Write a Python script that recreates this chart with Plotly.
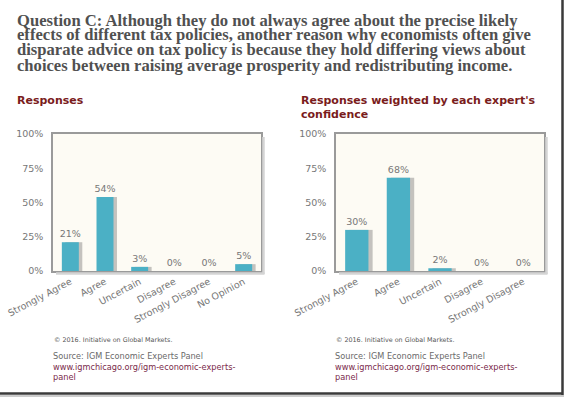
import plotly.graph_objects as go

# ---- data ----
categories_left = ["Strongly Agree", "Agree", "Uncertain", "Disagree", "Strongly Disagree", "No Opinion"]
values_left = [21, 54, 3, 0, 0, 5]
categories_right = ["Strongly Agree", "Agree", "Uncertain", "Disagree", "Strongly Disagree"]
values_right = [30, 68, 2, 0, 0]
y_tickvals = [0, 25, 50, 75, 100]
y_ticktext = ["0%", "25%", "50%", "75%", "100%"]

title_lines = [
    "Question C: Although they do not always agree about the precise likely",
    "effects of different tax policies, another reason why economists often give",
    "disparate advice on tax policy is because they hold differing views about",
    "choices between raising average prosperity and redistributing income.",
]

W, H = 565, 397
def px(x):
    return x / W
def py(y):
    return 1 - y / H

BAR = "#4BB0C5"
SHADOW = "rgba(90,90,90,0.35)"
TXT = "#777777"
RED = "#7A1C1C"

fig = go.Figure()

def add_panel(cats, vals, xa, ya, width):
    fig.add_trace(go.Bar(x=cats, y=vals, xaxis=xa, yaxis=ya, marker_color=SHADOW,
                         width=width, offset=-width / 2 + 0.1, hoverinfo="skip",
                         marker_line_width=0, showlegend=False))
    fig.add_trace(go.Bar(x=cats, y=vals, xaxis=xa, yaxis=ya, marker_color=BAR,
                         width=width, offset=-width / 2,
                         text=[f"{v}%" for v in vals], textposition="outside", constraintext="none",
                         textfont=dict(family="DejaVu Sans", size=9.5, color=TXT),
                         cliponaxis=False, marker_line_width=0, showlegend=False))

add_panel(categories_left, values_left, "x", "y", 0.49)
add_panel(categories_right, values_right, "x2", "y2", 0.56)

axis_common = dict(showgrid=False, zeroline=False, showline=True, linecolor="#9a9a9a",
                   linewidth=1.5, mirror=True, fixedrange=True, automargin=False)
xfont = dict(family="DejaVu Sans", size=9.5, color=TXT)

y0, y1 = py(271), py(134)
fig.update_layout(
    width=W, height=H, margin=dict(l=0, r=0, t=0, b=0, autoexpand=False),
    paper_bgcolor="white", plot_bgcolor="#FDFBF4",
    barmode="overlay", bargap=0.5,
    xaxis=dict(domain=[px(53), px(261)], anchor="y", tickangle=-28, tickfont=xfont, ticks="", **axis_common),
    yaxis=dict(domain=[y0, y1], anchor="x", range=[0, 100], tickvals=y_tickvals, ticktext=y_ticktext,
               tickfont=xfont, ticks="outside", ticklen=6, tickcolor="white", **axis_common),
    xaxis2=dict(domain=[px(336), px(544)], anchor="y2", tickangle=-28, tickfont=xfont, ticks="", **axis_common),
    yaxis2=dict(domain=[y0, y1], anchor="x2", range=[0, 100], tickvals=y_tickvals, ticktext=y_ticktext,
                tickfont=xfont, ticks="outside", ticklen=6, tickcolor="white", **axis_common),
)

ann = []
for i, line in enumerate(title_lines):
    ann.append(dict(text=line, x=px(15), y=py(20 + i * 15), xref="paper", yref="paper",
                    xanchor="left", yanchor="middle", showarrow=False,
                    font=dict(family="Liberation Serif", size=16.6, color="#505050", weight="bold")))

sub = dict(family="DejaVu Sans", size=11, color=RED, weight="bold")
ann.append(dict(text="Responses", x=px(15), y=py(101), xref="paper", yref="paper",
                xanchor="left", yanchor="middle", showarrow=False, font=sub))
ann.append(dict(text="Responses weighted by each expert's", x=px(299), y=py(101), xref="paper", yref="paper",
                xanchor="left", yanchor="middle", showarrow=False, font=sub))
ann.append(dict(text="confidence", x=px(299), y=py(115), xref="paper", yref="paper",
                xanchor="left", yanchor="middle", showarrow=False, font=sub))

for x0 in (51, 333):
    ann.append(dict(text="© 2016. Initiative on Global Markets.", x=px(x0 + 1), y=py(340), xref="paper", yref="paper",
                    xanchor="left", yanchor="middle", showarrow=False,
                    font=dict(family="DejaVu Sans", size=6.4, color="#555555")))
    ann.append(dict(text="Source: IGM Economic Experts Panel", x=px(x0), y=py(356), xref="paper", yref="paper",
                    xanchor="left", yanchor="middle", showarrow=False,
                    font=dict(family="DejaVu Sans", size=8.2, color="#6a6a6a")))
    ann.append(dict(text="www.igmchicago.org/igm-economic-experts-", x=px(x0), y=py(366.5), xref="paper", yref="paper",
                    xanchor="left", yanchor="middle", showarrow=False,
                    font=dict(family="DejaVu Sans", size=8.2, color="#7A2A4A")))
    ann.append(dict(text="panel", x=px(x0), y=py(377), xref="paper", yref="paper",
                    xanchor="left", yanchor="middle", showarrow=False,
                    font=dict(family="DejaVu Sans", size=8.2, color="#7A2A4A")))

fig.update_layout(annotations=ann)

shapes = []
# plot-area drop shadows
for (l, r) in ((53, 261), (336, 544)):
    shapes.append(dict(type="line", xref="paper", yref="paper", x0=px(r + 2.5), x1=px(r + 2.5),
                       y0=py(137), y1=py(274), line=dict(color="#d4d4d4", width=2.5)))
    shapes.append(dict(type="line", xref="paper", yref="paper", x0=px(l + 3), x1=px(r + 3.5),
                       y0=py(273.5), y1=py(273.5), line=dict(color="#d4d4d4", width=2.5)))
# outer frame (right and bottom)
shapes.append(dict(type="line", xref="paper", yref="paper", x0=px(562.5), x1=px(562.5), y0=py(0), y1=py(395),
                   line=dict(color="#3a3a3a", width=2.5)))
shapes.append(dict(type="line", xref="paper", yref="paper", x0=px(0), x1=px(563), y0=py(393.5), y1=py(393.5),
                   line=dict(color="#3a3a3a", width=2.5)))
shapes.append(dict(type="line", xref="paper", yref="paper", x0=px(0), x1=px(564), y0=py(396), y1=py(396),
                   line=dict(color="#bbbbbb", width=1.5)))
fig.update_layout(shapes=shapes)

fig.write_html("out.html", config={"displayModeBar": False},
               post_script="document.body.style.margin='0';document.body.style.overflow='hidden';")
